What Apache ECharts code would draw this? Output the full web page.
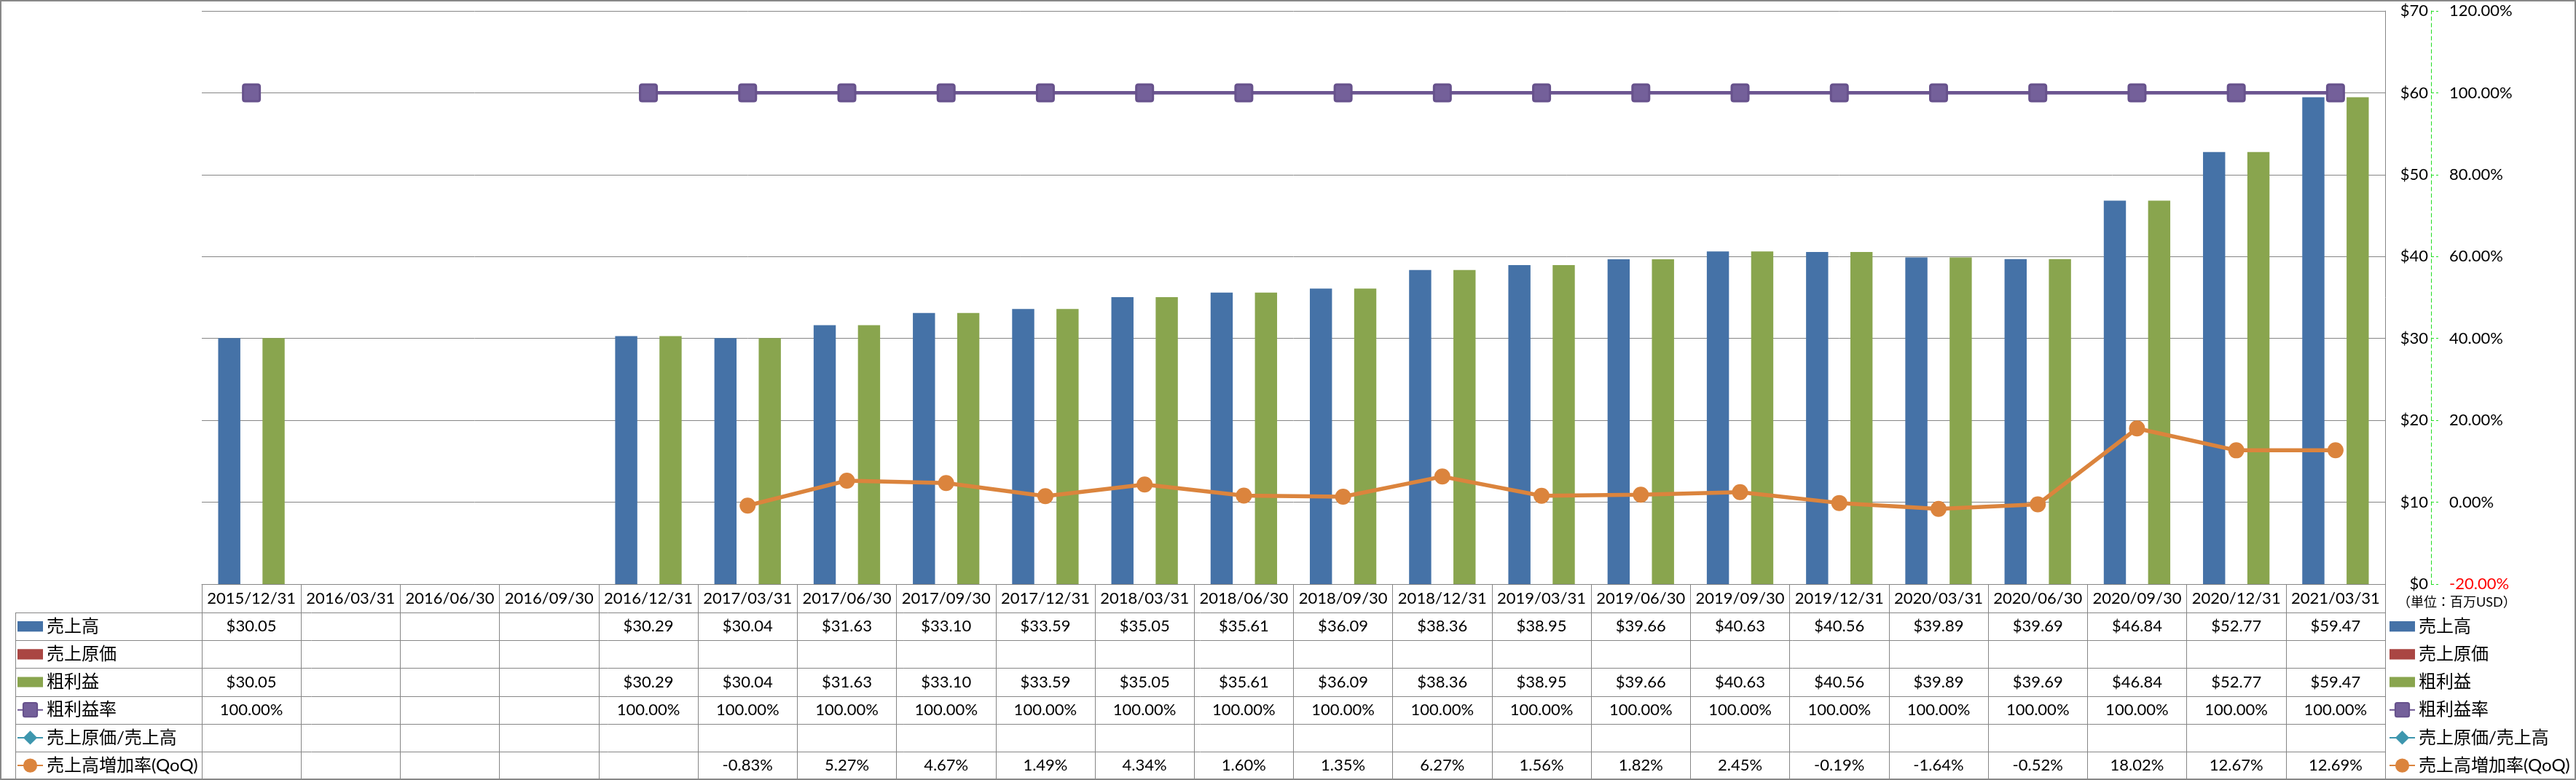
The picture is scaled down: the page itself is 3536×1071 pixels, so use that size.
<!DOCTYPE html>
<html><head><meta charset="utf-8">
<script src="https://cdn.jsdelivr.net/npm/echarts@6/dist/echarts.min.js"></script>
<style>html,body{margin:0;padding:0;background:#fff}#c{width:3536px;height:1071px}</style>
</head><body><div id="c"></div>
<script>
// ---------- data ----------
const categories = ['2015/12/31','2016/03/31','2016/06/30','2016/09/30','2016/12/31','2017/03/31','2017/06/30','2017/09/30','2017/12/31','2018/03/31','2018/06/30','2018/09/30','2018/12/31','2019/03/31','2019/06/30','2019/09/30','2019/12/31','2020/03/31','2020/06/30','2020/09/30','2020/12/31','2021/03/31'];
const sales       = [30.05,null,null,null,30.29,30.04,31.63,33.10,33.59,35.05,35.61,36.09,38.36,38.95,39.66,40.63,40.56,39.89,39.69,46.84,52.77,59.47];
const costOfSales = [null,null,null,null,null,null,null,null,null,null,null,null,null,null,null,null,null,null,null,null,null,null];
const grossProfit = [30.05,null,null,null,30.29,30.04,31.63,33.10,33.59,35.05,35.61,36.09,38.36,38.95,39.66,40.63,40.56,39.89,39.69,46.84,52.77,59.47];
const grossMargin = [100,null,null,null,100,100,100,100,100,100,100,100,100,100,100,100,100,100,100,100,100,100];
const costRatio   = [null,null,null,null,null,null,null,null,null,null,null,null,null,null,null,null,null,null,null,null,null,null];
const salesQoQ    = [null,null,null,null,null,-0.83,5.27,4.67,1.49,4.34,1.60,1.35,6.27,1.56,1.82,2.45,-0.19,-1.64,-0.52,18.02,12.67,12.69];
const seriesNames = ['売上高','売上原価','粗利益','粗利益率','売上原価/売上高','売上高増加率(QoQ)'];
const moneyAxisRange = [0, 70, 10];      // min, max, interval  ($)
const percentAxisRange = [-20, 120, 20]; // min, max, interval  (%)
const unitNote = '（単位：百万USD）';

// ---------- layout / style ----------
const W = 3536, H = 1071;
const GRID = {left: 277, right: 262, top: 15, bottom: 269};
const plotBottom = H - GRID.bottom, plotRight = W - GRID.right;
const HEADER_H = 39, ROW_H = 38.2, TABLE_LEFT = 21;
const FONT = "Lato, 'Noto Sans CJK JP', sans-serif";
const GRID_COLOR = '#868686';
const C = {blue:'#4572A7', red:'#AA4643', green:'#89A54E', purple:'#6b5590', aqua:'#3D96AE', orange:'#DB843D'};
const SQUARE = 'path://M3 0H20Q23 0 23 3V20Q23 23 20 23H3Q0 23 0 20V3Q0 0 3 0Z';

const money = v => (v == null ? '' : '$' + v.toFixed(2));
const pct = v => (v == null ? '' : v.toFixed(2) + '%');
const tableRows = [
  sales.map(money), costOfSales.map(money), grossProfit.map(money),
  grossMargin.map(pct), costRatio.map(pct), salesQoQ.map(pct)
];

const chart = echarts.init(document.getElementById('c'), null, {renderer: 'canvas', width: W, height: H});

const xAxes = [{
  type: 'category', data: categories, gridIndex: 0, position: 'bottom', boundaryGap: true,
  axisLine: {show: true, onZero: false, lineStyle: {color: GRID_COLOR, width: 1}},
  axisTick: {show: true, interval: 0, length: HEADER_H + ROW_H * 6, lineStyle: {color: GRID_COLOR, width: 1}},
  axisLabel: {interval: 0, margin: HEADER_H / 2, verticalAlign: 'middle', fontFamily: FONT, fontSize: 22, color: '#000'},
  splitLine: {show: false}
}];
tableRows.forEach((row, k) => {
  xAxes.push({
    type: 'category', data: row, gridIndex: 0, position: 'bottom', offset: 0, boundaryGap: true,
    axisLine: {show: false, onZero: false}, axisTick: {show: false}, splitLine: {show: false},
    axisLabel: {interval: 0, margin: HEADER_H + ROW_H * k + ROW_H / 2, verticalAlign: 'middle',
      fontFamily: FONT, fontSize: 22, color: '#000'}
  });
});

const axisLineGreen = {show: true, lineStyle: {color: '#22dd22', type: [5, 4], width: 1}};
const yAxes = [
  { // money
    type: 'value', position: 'right', offset: 63,
    min: moneyAxisRange[0], max: moneyAxisRange[1], interval: moneyAxisRange[2],
    axisLine: axisLineGreen,
    axisTick: {show: true, length: 10, lineStyle: {color: '#22dd22', type: [4, 3]}},
    axisLabel: {inside: true, margin: 4, formatter: v => '$' + v, fontFamily: FONT, fontSize: 22, color: '#000'},
    splitLine: {show: true, lineStyle: {color: GRID_COLOR, width: 1}}
  },
  { // percent
    type: 'value', position: 'right', offset: 63,
    min: percentAxisRange[0], max: percentAxisRange[1], interval: percentAxisRange[2],
    axisLine: {show: false}, axisTick: {show: false},
    axisLabel: {margin: 25, formatter: v => v.toFixed(2) + '%', fontFamily: FONT, fontSize: 22,
      color: v => (Number(v) < 0 ? '#ff0000' : '#000')},
    splitLine: {show: false}
  },
  { // plot right border
    type: 'value', position: 'right', offset: 0, min: 0, max: 1,
    axisLine: {show: true, lineStyle: {color: GRID_COLOR, width: 1}},
    axisTick: {show: false}, axisLabel: {show: false}, splitLine: {show: false}
  }
];

const BAR_ICON = 'path://M0 0H32V13H0Z';
const legendData = [
  {name: seriesNames[0], icon: BAR_ICON},
  {name: seriesNames[1], icon: BAR_ICON},
  {name: seriesNames[2], icon: BAR_ICON},
  {name: seriesNames[3]}, {name: seriesNames[4]}, {name: seriesNames[5]}
];
const legendCommon = {
  type: 'plain', orient: 'vertical', padding: 0,
  top: plotBottom + HEADER_H + (ROW_H - 24) / 2, itemGap: ROW_H - 24,
  itemWidth: 35, itemHeight: 24, selectedMode: false, data: legendData,
  textStyle: {fontFamily: FONT, fontSize: 24, lineHeight: 24, color: '#000'}
};

const tableLines = [];
for (let k = 0; k <= 6; k++) {
  const y = Math.round(plotBottom + HEADER_H + ROW_H * k) + 0.5;
  tableLines.push({type: 'line', shape: {x1: TABLE_LEFT, y1: y, x2: plotRight, y2: y},
    style: {stroke: GRID_COLOR, lineWidth: 1}, silent: true});
}
tableLines.push({type: 'line', shape: {x1: TABLE_LEFT + 0.5, y1: plotBottom + HEADER_H, x2: TABLE_LEFT + 0.5, y2: plotBottom + HEADER_H + ROW_H * 6},
  style: {stroke: GRID_COLOR, lineWidth: 1}, silent: true});
tableLines.push({type: 'rect', shape: {x: 1, y: 1, width: W - 2, height: H - 2},
  style: {fill: 'none', stroke: '#888888', lineWidth: 2}, silent: true});

const option = {
  animation: false,
  backgroundColor: '#ffffff',
  title: {text: unitNote, left: plotRight + 17, top: plotBottom + 16, padding: 0,
    textStyle: {fontFamily: FONT, fontSize: 18, fontWeight: 'normal', color: '#000'}},
  grid: {left: GRID.left, right: GRID.right, top: GRID.top, bottom: GRID.bottom, containLabel: false},
  legend: [
    Object.assign({left: TABLE_LEFT + 2}, legendCommon),
    Object.assign({left: plotRight + 5}, legendCommon)
  ],
  xAxis: xAxes,
  yAxis: yAxes,
  series: [
    {name: seriesNames[0], type: 'bar', xAxisIndex: 0, yAxisIndex: 0, data: sales,
      barGap: '0%', barCategoryGap: '33%', itemStyle: {color: C.blue}},
    {name: seriesNames[1], type: 'bar', xAxisIndex: 0, yAxisIndex: 0, data: costOfSales,
      barGap: '0%', barCategoryGap: '33%', itemStyle: {color: C.red}},
    {name: seriesNames[2], type: 'bar', xAxisIndex: 0, yAxisIndex: 0, data: grossProfit,
      barGap: '0%', barCategoryGap: '33%', itemStyle: {color: C.green}},
    {name: seriesNames[3], type: 'line', xAxisIndex: 0, yAxisIndex: 1, data: grossMargin, z: 5,
      connectNulls: false, symbol: SQUARE, symbolSize: 23, showAllSymbol: true,
      lineStyle: {color: C.purple, width: 4.7},
      itemStyle: {color: '#74609a', borderColor: '#67528c', borderWidth: 3}},
    {name: seriesNames[4], type: 'line', xAxisIndex: 0, yAxisIndex: 1, data: costRatio, z: 5,
      symbol: 'diamond', symbolSize: 22, lineStyle: {color: C.aqua, width: 5.5}, itemStyle: {color: C.aqua}},
    {name: seriesNames[5], type: 'line', xAxisIndex: 0, yAxisIndex: 1, data: salesQoQ, z: 6,
      connectNulls: false, symbol: 'circle', symbolSize: 22, showAllSymbol: true,
      lineStyle: {color: C.orange, width: 5.5}, itemStyle: {color: C.orange}}
  ],
  graphic: tableLines
};
chart.setOption(option);
</script></body></html>
